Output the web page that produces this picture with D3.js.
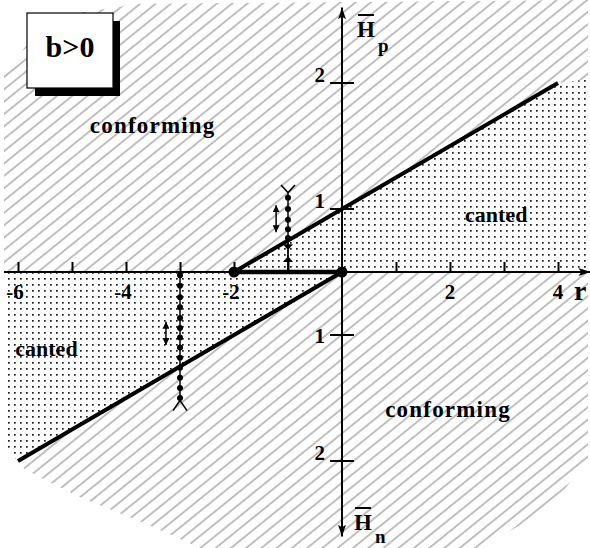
<!DOCTYPE html>
<html>
<head>
<meta charset="utf-8">
<script src="https://cdn.jsdelivr.net/npm/d3@7/dist/d3.min.js"></script>
<style>
  html, body { margin: 0; padding: 0; background: #fff; }
  svg { display: block; }
  text { font-family: "Liberation Serif", "Times New Roman", serif; font-weight: bold; fill: #000; }
</style>
</head>
<body>
<svg id="chart" width="590" height="548"></svg>
<script>
// ---- data (r on the horizontal axis, signed H: + is H̄p, − is H̄n) ----
const xTickValues = [-6, -5, -4, -3, -2, -1, 1, 2, 3, 4];
const xTickLabels = [-6, -4, -2, 2, 4];
const yTickValues = [2, 1, -1, -2];
const yTickLabels = ["2", "1", "1", "2"];

// phase boundaries
const upperBoundary = [[-2, 0], [0, 1], [4, 2]];
const lowerBoundary = [[0, 0], [-2, -1], [-6, -2]];
// first-order segment on the r axis
const criticalSegment = [[-2, 0], [0, 0]];

// outline of the shaded plane
const planeOutline = [
  [-6.26, 2.06], [-5.78, 2.34], [-4.85, 2.56], [-3.74, 2.63], [4.56, 2.66],
  [4.56, -1.99], [4.04, -2.27], [3.30, -2.51], [2.56, -2.69], [-2.63, -2.69],
  [-3.74, -2.48], [-4.85, -2.29], [-5.87, -2.07], [-6.26, -1.87]
];
// canted regions
const cantedUpper = [[-2, 0], [0, 1], [4, 2], [4.6, 2.03], [4.6, 0]];
const cantedLower = [[0, 0], [-2, -1], [-6, -2], [-6.3, -2.1], [-6.3, 0]];

// field sweeps (dotted paths)
const sweepA = { r: -1, dots: [1.09, 1.0, 0.83, 0.68, 0.54], forkBase: 1.13, forkTip: 1.19,
                 headDown: [0.44, 0.35], headUp: [0.16, 0.25] };
const sweepB = { r: -3, dots: [-0.05, -0.22, -0.40, -0.56, -0.73, -0.89, -1.02, -1.10, -1.18,
                               -1.26, -1.34, -1.42, -1.50], forkBase: -1.52, forkTip: -1.60 };
// double arrows beside the sweeps
const doubleArrows = [
  { r: -1.22, from: 1.03, to: 0.63 },
  { r: -3.26, from: -0.79, to: -1.08 }
];

// region labels
const regionLabels = [
  { text: "conforming", r: -4.67, h: 1.6 },
  { text: "canted", r: 2.28, h: 0.79 },
  { text: "canted", r: -6.05, h: -1.17 },
  { text: "conforming", r: 0.8, h: -1.65 }
];

// ---- scales ----
const svg = d3.select("#chart");
const x = d3.scaleLinear().domain([-6, 4]).range([18, 558]);
const y = d3.scaleLinear().domain([-2, -1, 0, 1, 2]).range([461, 335, 272, 209, 83]);

const defs = svg.append("defs");

// diagonal hatching
const hatch = defs.append("pattern")
  .attr("id", "hatch").attr("patternUnits", "userSpaceOnUse")
  .attr("width", 40).attr("height", 9.6)
  .attr("patternTransform", "rotate(-39)");
hatch.append("line").attr("x1", 0).attr("x2", 40).attr("y1", 4.8).attr("y2", 4.8)
  .attr("stroke", "#707070").attr("stroke-width", 0.9);

// dot screen
const dots = defs.append("pattern")
  .attr("id", "dots").attr("patternUnits", "userSpaceOnUse")
  .attr("width", 6).attr("height", 6);
dots.append("rect").attr("width", 6).attr("height", 6).attr("fill", "#fff");
dots.append("rect").attr("x", 2).attr("y", 2).attr("width", 1.7).attr("height", 1.7).attr("fill", "#1a1a1a");

const polyPath = pts => "M" + pts.map(p => [x(p[0]), y(p[1])].join(",")).join("L") + "Z";

defs.append("clipPath").attr("id", "plane")
  .append("path").attr("d", polyPath(planeOutline));

// arrowheads
defs.append("marker").attr("id", "axisHead").attr("viewBox", "0 0 12 8")
  .attr("refX", 12).attr("refY", 4).attr("markerWidth", 12).attr("markerHeight", 8)
  .attr("markerUnits", "userSpaceOnUse").attr("orient", "auto")
  .append("path").attr("d", "M0,0L12,4L0,8L3,4Z").attr("fill", "#000");
defs.append("marker").attr("id", "smallHead").attr("viewBox", "0 0 8 8")
  .attr("refX", 8).attr("refY", 4).attr("markerWidth", 7).attr("markerHeight", 7)
  .attr("markerUnits", "userSpaceOnUse").attr("orient", "auto-start-reverse")
  .append("path").attr("d", "M0,0L8,4L0,8Z").attr("fill", "#000");

// ---- shaded regions ----
const plane = svg.append("g").attr("clip-path", "url(#plane)");
plane.append("path").attr("d", polyPath(planeOutline)).attr("fill", "url(#hatch)");
plane.append("path").attr("d", polyPath(cantedUpper)).attr("fill", "url(#dots)");
plane.append("path").attr("d", polyPath(cantedLower)).attr("fill", "url(#dots)");

// ---- axes ----
const axes = svg.append("g");
// r axis
axes.append("line")
  .attr("x1", x(-6.26)).attr("x2", x(4.6)).attr("y1", y(0)).attr("y2", y(0))
  .attr("stroke", "#000").attr("stroke-width", 2).attr("marker-end", "url(#axisHead)");
// H̄p / H̄n axis, with arrows at both ends
axes.append("line")
  .attr("x1", x(0)).attr("x2", x(0)).attr("y1", y(0)).attr("y2", y(2.6))
  .attr("stroke", "#000").attr("stroke-width", 2).attr("marker-end", "url(#axisHead)");
axes.append("line")
  .attr("x1", x(0)).attr("x2", x(0)).attr("y1", y(0)).attr("y2", y(-2.6))
  .attr("stroke", "#000").attr("stroke-width", 2).attr("marker-end", "url(#axisHead)");

// r ticks (pointing up)
const xAxis = d3.axisTop(x).tickValues(xTickValues).tickSize(10).tickFormat("");
const gx = axes.append("g").attr("transform", `translate(0,${y(0)})`).call(xAxis);
gx.select(".domain").remove();
gx.selectAll(".tick line").attr("stroke", "#000").attr("stroke-width", 2);

axes.selectAll("text.xlab").data(xTickLabels).join("text")
  .attr("class", "xlab")
  .attr("x", d => x(d) + (d < 0 ? -3 : 0))
  .attr("y", y(0) + 27)
  .attr("text-anchor", "middle")
  .attr("font-size", 21)
  .text(d => d < 0 ? "-" + Math.abs(d) : d);

// H ticks (crossing the axis)
axes.selectAll("line.ytick").data(yTickValues).join("line")
  .attr("class", "ytick")
  .attr("x1", x(0) - 12).attr("x2", x(0) + 12)
  .attr("y1", d => y(d)).attr("y2", d => y(d))
  .attr("stroke", "#000").attr("stroke-width", 2);
axes.selectAll("text.ylab").data(yTickValues).join("text")
  .attr("class", "ylab")
  .attr("x", x(0) - 17)
  .attr("y", d => y(d) + (d === -1 ? 8 : -1))
  .attr("text-anchor", "end")
  .attr("font-size", 21)
  .text((d, i) => yTickLabels[i]);

// axis titles with overbars
function barTitle(px, py, sub, subDy) {
  const g = svg.append("g");
  const t = g.append("text").attr("x", px).attr("y", py).attr("font-size", 23).text("H");
  const bb = t.node().getBBox();
  g.append("line").attr("x1", bb.x + 1).attr("x2", bb.x + bb.width - 1)
    .attr("y1", py - 22).attr("y2", py - 22).attr("stroke", "#000").attr("stroke-width", 2);
  g.append("text").attr("x", bb.x + bb.width + 3).attr("y", py + subDy)
    .attr("font-size", 19).attr("font-weight", "normal").text(sub);
}
barTitle(x(0) + 15, 37, "p", 15);
barTitle(x(0) + 12, 530, "n", 13);
svg.append("text").attr("x", 574).attr("y", y(0) + 28)
  .attr("font-size", 28).text("r");

// ---- phase boundaries ----
const line = d3.line().x(d => x(d[0])).y(d => y(d[1]));
svg.append("path").attr("d", line(upperBoundary)).attr("fill", "none")
  .attr("stroke", "#000").attr("stroke-width", 4);
svg.append("path").attr("d", line(lowerBoundary)).attr("fill", "none")
  .attr("stroke", "#000").attr("stroke-width", 4);
svg.append("path").attr("d", line(criticalSegment)).attr("fill", "none")
  .attr("stroke", "#000").attr("stroke-width", 4.5);
svg.selectAll("circle.crit").data(criticalSegment).join("circle")
  .attr("class", "crit").attr("cx", d => x(d[0])).attr("cy", d => y(d[1])).attr("r", 5.5)
  .attr("fill", "#000");

// ---- field sweeps ----
function fork(g, r, base, tip) {
  g.append("path")
    .attr("d", `M${x(r)},${y(base)}L${x(r) - 7},${y(tip)}M${x(r)},${y(base)}L${x(r) + 7},${y(tip)}`)
    .attr("stroke", "#000").attr("stroke-width", 1.5).attr("fill", "none");
}
function sweep(s) {
  const g = svg.append("g");
  const ext = d3.extent(s.dots.concat([s.forkBase]));
  g.append("line").attr("x1", x(s.r)).attr("x2", x(s.r)).attr("y1", y(ext[0])).attr("y2", y(ext[1]))
    .attr("stroke", "#000").attr("stroke-width", 1.5);
  g.selectAll("circle").data(s.dots).join("circle")
    .attr("cx", x(s.r)).attr("cy", d => y(d)).attr("r", 3).attr("fill", "#000");
  fork(g, s.r, s.forkBase, s.forkTip);
  return g;
}
const gA = sweep(sweepA);
// short stroke from the boundary down to the r axis, with opposing heads
gA.append("path")
  .attr("d", `M${x(sweepA.r) - 5},${y(sweepA.headDown[0])}L${x(sweepA.r) + 5},${y(sweepA.headDown[0])}L${x(sweepA.r)},${y(sweepA.headDown[1])}Z`)
  .attr("fill", "#000");
gA.append("path")
  .attr("d", `M${x(sweepA.r) - 5},${y(sweepA.headUp[0])}L${x(sweepA.r) + 5},${y(sweepA.headUp[0])}L${x(sweepA.r)},${y(sweepA.headUp[1])}Z`)
  .attr("fill", "#000");
gA.append("line").attr("x1", x(sweepA.r)).attr("x2", x(sweepA.r))
  .attr("y1", y(0.5)).attr("y2", y(0)).attr("stroke", "#000").attr("stroke-width", 1.8);
sweep(sweepB);

svg.selectAll("line.dbl").data(doubleArrows).join("line")
  .attr("class", "dbl")
  .attr("x1", d => x(d.r)).attr("x2", d => x(d.r))
  .attr("y1", d => y(d.from)).attr("y2", d => y(d.to))
  .attr("stroke", "#000").attr("stroke-width", 1.5)
  .attr("marker-start", "url(#smallHead)").attr("marker-end", "url(#smallHead)");

// ---- region labels ----
svg.selectAll("text.region").data(regionLabels).join("text")
  .attr("class", "region")
  .attr("x", d => x(d.r)).attr("y", d => y(d.h))
  .attr("font-size", d => d.text === "conforming" ? 23 : 22)
  .attr("letter-spacing", d => d.text === "conforming" ? 1.2 : 0)
  .text(d => d.text);

// ---- parameter box ----
const box = svg.append("g");
box.append("rect").attr("x", 35).attr("y", 21).attr("width", 85).attr("height", 75).attr("fill", "#000");
box.append("rect").attr("x", 27).attr("y", 13).attr("width", 86).attr("height", 75)
  .attr("fill", "#fff").attr("stroke", "#000").attr("stroke-width", 1.2);
box.append("text").attr("x", 70).attr("y", 57).attr("text-anchor", "middle")
  .attr("font-size", 30).text("b>0");
</script>
</body>
</html>
